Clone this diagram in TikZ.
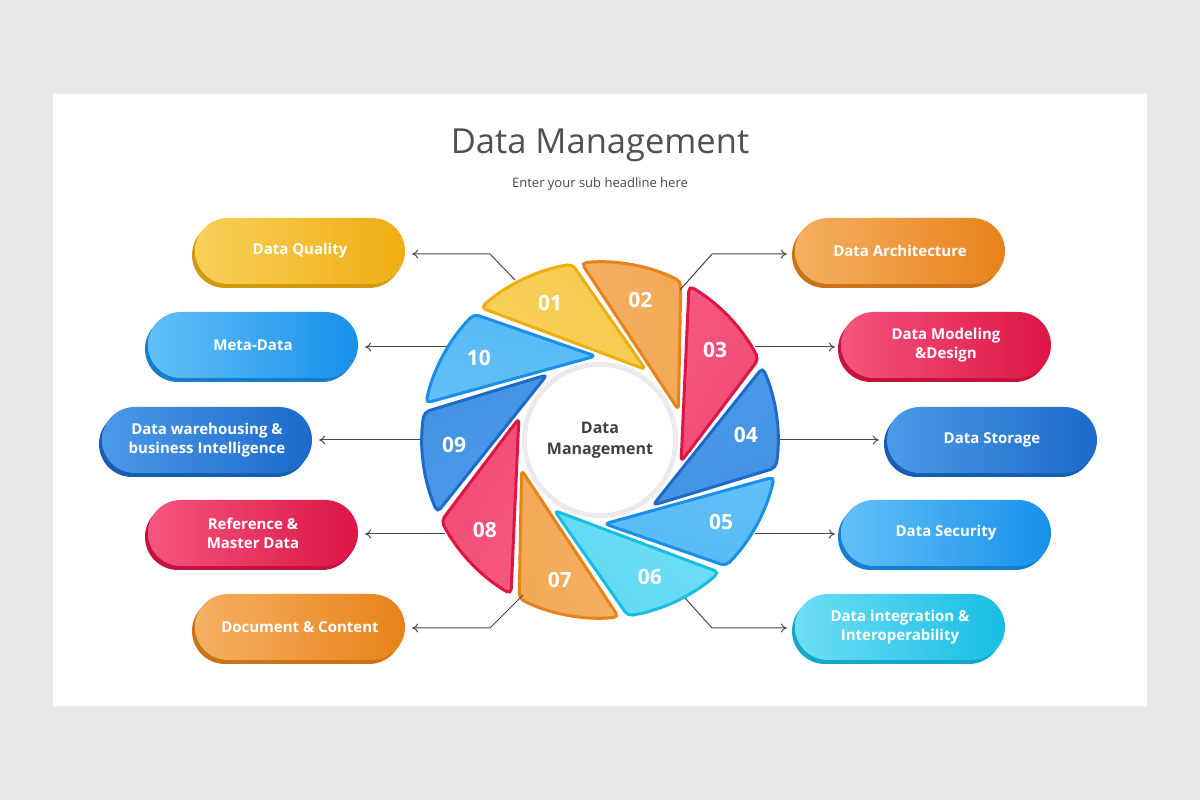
\documentclass[tikz,border=0pt]{standalone}
\usepackage{fontspec}
\setmainfont{Open Sans}
\usetikzlibrary{calc,arrows.meta}
\definecolor{yelL}{HTML}{F8D05A}\definecolor{yelD}{HTML}{EEAE12}
\definecolor{orgL}{HTML}{F5B062}\definecolor{orgD}{HTML}{E8821A}
\definecolor{redL}{HTML}{F4557E}\definecolor{redD}{HTML}{DC1545}
\definecolor{bluL}{HTML}{4A9AE8}\definecolor{bluD}{HTML}{1C6ACA}
\definecolor{lblL}{HTML}{62C0F8}\definecolor{lblD}{HTML}{1890EA}
\definecolor{cynL}{HTML}{6EDEF5}\definecolor{cynD}{HTML}{18BDE3}
\definecolor{bg}{HTML}{E9E8EA}
\definecolor{txt}{HTML}{505050}
\tikzset{
  pill/.style args={#1/#2}{rectangle, rounded corners=33pt, minimum width=210pt, minimum height=66pt,
    left color=#1, right color=#2, text=white, font=\fontsize{15}{19}\selectfont\bfseries, align=center, inner sep=0pt},
  pillshadow/.style={rectangle, rounded corners=33pt, minimum width=210pt, minimum height=66pt, fill=#1!88!black, inner sep=0pt},
  conn/.style={draw=txt!90!black, line width=1pt, -{To[length=6pt,width=9pt]}},
  num/.style={text=white, font=\fontsize{21}{21}\selectfont\bfseries},
}
\begin{document}
\begin{tikzpicture}[x=1pt,y=1pt]
\fill[bg] (0,0) rectangle (1200,800);
\fill[white] (53,94) rectangle (1147,706);
\node[text=txt, font=\fontsize{34.5}{36}\selectfont] (title) at (600,655) {Data Management};
\node[text=txt!90!black, font=\fontsize{13}{15}\selectfont] (sub) at (600,616) {Enter your sub headline here};
\coordinate (C) at (600,360);
% blades
\foreach \k/\L/\D/\n in {1/yelL/yelD/01,2/orgL/orgD/02,3/redL/redD/03,4/bluL/bluD/04,5/lblL/lblD/05,6/cynL/cynD/06,7/orgL/orgD/07,8/redL/redD/08,9/bluL/bluD/09,10/lblL/lblD/10}{
  \pgfmathsetmacro{\t}{132-36*(\k-1)}
  \pgfmathsetmacro{\te}{\t-33}
  \pgfmathsetmacro{\tt}{\t-75}
  \pgfmathsetmacro{\tn}{\t-22}
  \draw[white, line width=7pt, line join=round] ($(C)+(\t:178)$) arc[start angle=\t, end angle=\te, radius=178] -- ($(C)+(\tt:84)$) -- cycle;
  \draw[rounded corners=5pt, draw=\D, line width=3pt, left color=\L, right color=\L!85!\D, shading angle=\t] ($(C)+(\t:178)$) arc[start angle=\t, end angle=\te, radius=178] -- ($(C)+(\tt:84)$) -- cycle;
  \node[num] (n\k) at ($(C)+(\tn:146)$) {\n};
}
\fill[black!8] (C) circle (78);
\node[circle, fill=white, minimum size=146pt, inner sep=0pt, text=txt!80!black, font=\fontsize{16}{21}\selectfont\bfseries, align=center] (ctr) at (C) {Data\\Management};
% pills
\foreach \nm/\x/\y/\L/\D/\tx in {
  dq/300/549/yelL/yelD/{Data Quality},
  md/253/455/lblL/lblD/{Meta-Data},
  dw/207/360/bluL/bluD/{Data warehousing \&\\business Intelligence},
  rm/253/267/redL/redD/{Reference \&\\Master Data},
  dc/300/173/orgL/orgD/{Document \& Content},
  da/900/549/orgL/orgD/{Data Architecture},
  dm/946/455/redL/redD/{Data Modeling\\\&Design},
  ds/992/360/bluL/bluD/{Data Storage},
  se/946/267/lblL/lblD/{Data Security},
  di/900/173/cynL/cynD/{Data integration \&\\Interoperability}}{
  \node[pillshadow=\D] (\nm s) at (\x-3,\y-4) {};
  \node[pill=\L/\D] (\nm) at (\x,\y) {\tx};
}
% connectors
\coordinate (b1) at (515,520); \coordinate (b2) at (680,510);
\coordinate (b10) at (447,453); \coordinate (b3) at (755,453);
\coordinate (b9) at (420,360); \coordinate (b4) at (780,360);
\coordinate (b8) at (445,266); \coordinate (b5) at (755,266);
\coordinate (b7) at (523,205); \coordinate (b6) at (685,202);
\draw[conn] (b1) -- (490,546) -- ([xshift=7pt]dq.east|-0,546);
\draw[conn] (b2) -- (712,546) -- ([xshift=-8pt]da.west|-0,546);
\draw[conn] (b10) -- ([xshift=7pt]md.east|-b10);
\draw[conn] (b3) -- ([xshift=-6pt]dm.west|-b3);
\draw[conn] (b9) -- ([xshift=7pt]dw.east|-b9);
\draw[conn] (b4) -- ([xshift=-8pt]ds.west|-b4);
\draw[conn] (b8) -- ([xshift=7pt]rm.east|-b8);
\draw[conn] (b5) -- ([xshift=-6pt]se.west|-b5);
\draw[conn] (b7) -- (490,172) -- ([xshift=7pt]dc.east|-0,172);
\draw[conn] (b6) -- (712,172) -- ([xshift=-8pt]di.west|-0,172);
\end{tikzpicture}
\end{document}
